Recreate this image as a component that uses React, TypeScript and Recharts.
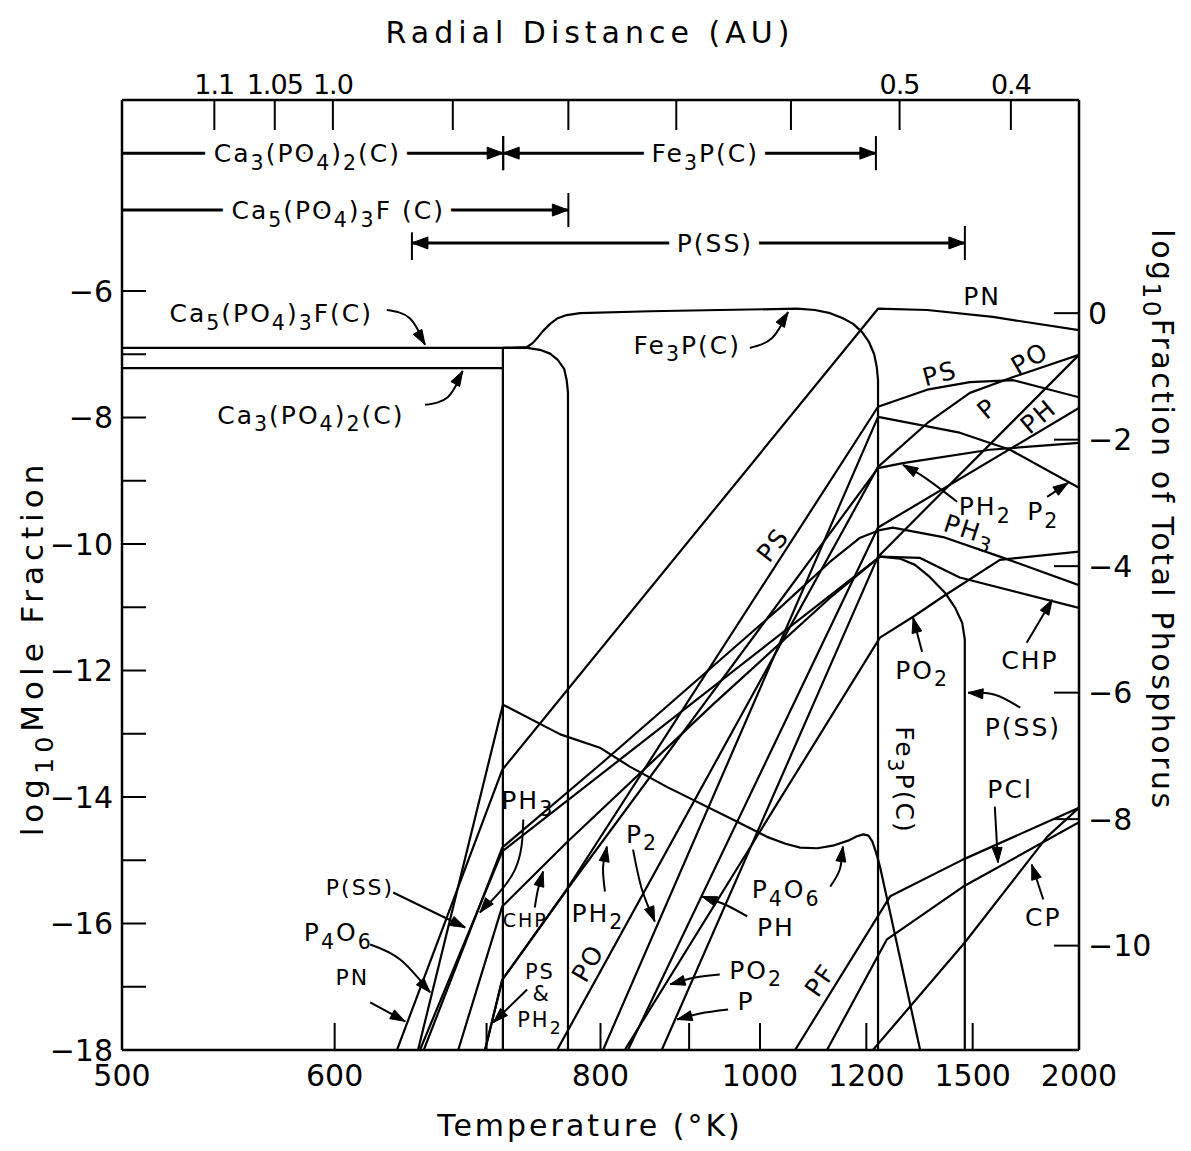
import React from 'react';
import { ComposedChart, Line, XAxis, YAxis } from 'recharts';

type Pt = [number, number];

// ---------- axes ----------
// x values are reciprocal temperature 1000/T (the figure's horizontal scale), y = log10 mole fraction
const temperatureTicks = [500, 600, 700, 800, 900, 1000, 1200, 1500, 2000];
const temperatureLabels = [500, 600, 800, 1000, 1200, 1500, 2000];
const radialTicks = [
  { au: '1.1', T: 539 },
  { au: '1.05', T: 568 },
  { au: '1.0', T: 599 },
  { au: '', T: 675 },
  { au: '', T: 769 },
  { au: '', T: 884 },
  { au: '', T: 1051 },
  { au: '0.5', T: 1280 },
  { au: '0.4', T: 1648 },
];
const moleFractionTicks = [-18, -17, -16, -15, -14, -13, -12, -11, -10, -9, -8, -7, -6];
const moleFractionLabels = [-18, -16, -14, -12, -10, -8, -6];
const totalPTicks = [0, -2, -4, -6, -8, -10];
const totalPOffset = 6.35;
const yMin = -18;
const yMax = -2.98;

// ---------- condensed phases ----------
const ca5po43fC: Pt[] = [[2.0, -6.9], [1.365, -6.9], [1.345, -6.93], [1.329, -6.99], [1.317, -7.09], [1.307, -7.23], [1.303, -7.41], [1.301, -7.6], [1.301, -18]];
const ca3po42C: Pt[] = [[2.0, -7.22], [1.403, -7.22]];
const ca3po42Drop: Pt[] = [[1.403, -6.9], [1.403, -18]];
const fe3pC: Pt[] = [[1.403, -6.9], [1.365, -6.885], [1.356, -6.82], [1.348, -6.73], [1.34, -6.63], [1.329, -6.52], [1.317, -6.43], [1.303, -6.38], [1.282, -6.35], [1.172, -6.32], [1.063, -6.3], [0.942, -6.28], [0.914, -6.3], [0.89, -6.35], [0.87, -6.43], [0.854, -6.52], [0.84, -6.65], [0.829, -6.81], [0.821, -7.0], [0.817, -7.2], [0.815, -7.41], [0.815, -18]];
const pSS: Pt[] = [[1.533, -18], [1.404, -14.86], [0.812, -10.2], [0.781, -10.23], [0.757, -10.33], [0.734, -10.52], [0.71, -10.77], [0.694, -11.01], [0.683, -11.25], [0.679, -11.51], [0.679, -18]];

// ---------- gas species ----------
const pn: Pt[] = [[1.569, -18], [1.404, -13.57], [0.815, -6.28], [0.738, -6.3], [0.635, -6.41], [0.5, -6.62]];
const p4o6: Pt[] = [[1.536, -18], [1.403, -12.54], [1.313, -13.01], [1.251, -13.22], [1.204, -13.52], [1.146, -13.84], [1.042, -14.36], [0.989, -14.63], [0.96, -14.74], [0.937, -14.8], [0.91, -14.81], [0.886, -14.77], [0.862, -14.69], [0.848, -14.62], [0.838, -14.59], [0.83, -14.61], [0.824, -14.7], [0.818, -14.88], [0.812, -15.1], [0.796, -15.83], [0.749, -18]];
const ph3: Pt[] = [[1.527, -18], [1.404, -14.8], [1.251, -13.49], [1.094, -12.11], [0.969, -11.01], [0.89, -10.28], [0.843, -9.9], [0.812, -9.78], [0.792, -9.74], [0.713, -9.89], [0.624, -10.2], [0.5, -10.65]];
const chp: Pt[] = [[1.473, -18], [1.404, -15.73], [1.303, -14.72], [1.074, -12.54], [0.89, -10.85], [0.812, -10.2], [0.749, -10.22], [0.687, -10.53], [0.5, -11.01]];
const ps: Pt[] = [[1.431, -18], [1.404, -16.89], [1.306, -15.51], [0.815, -7.83], [0.738, -7.56], [0.671, -7.44], [0.603, -7.41], [0.5, -7.68]];
const ph2: Pt[] = [[1.431, -18], [1.404, -16.89], [1.306, -15.51], [0.815, -8.8], [0.776, -8.72], [0.64, -8.51], [0.5, -8.4]];
const po: Pt[] = [[1.318, -18], [0.815, -8.78], [0.738, -8.09], [0.671, -7.61], [0.603, -7.36], [0.5, -7.01]];
const p2: Pt[] = [[1.246, -18], [0.815, -7.99], [0.687, -8.24], [0.608, -8.51], [0.5, -9.11]];
const ph: Pt[] = [[1.207, -18], [0.815, -9.74], [0.5, -7.85]];
const po2: Pt[] = [[1.212, -18], [0.812, -11.48], [0.76, -11.15], [0.713, -10.83], [0.624, -10.25], [0.5, -10.12]];
const p: Pt[] = [[1.154, -18], [0.815, -10.2], [0.5, -7.01]];
const pf: Pt[] = [[0.945, -18], [0.796, -15.57], [0.682, -14.99], [0.5, -14.17]];
const pcl: Pt[] = [[0.895, -18], [0.801, -16.25], [0.682, -15.42], [0.5, -14.4]];
const cp: Pt[] = [[0.823, -18], [0.679, -16.3], [0.55, -14.63], [0.5, -14.17]];

const curves: { id: string; pts: Pt[] }[] = [
  { id: 'ca5', pts: ca5po43fC },
  { id: 'ca3', pts: ca3po42C },
  { id: 'ca3d', pts: ca3po42Drop },
  { id: 'fe3p', pts: fe3pC },
  { id: 'pss', pts: pSS },
  { id: 'pn', pts: pn },
  { id: 'p4o6', pts: p4o6 },
  { id: 'ph3', pts: ph3 },
  { id: 'chp', pts: chp },
  { id: 'ps', pts: ps },
  { id: 'ph2', pts: ph2 },
  { id: 'po', pts: po },
  { id: 'p2', pts: p2 },
  { id: 'ph', pts: ph },
  { id: 'po2', pts: po2 },
  { id: 'p', pts: p },
  { id: 'pf', pts: pf },
  { id: 'pcl', pts: pcl },
  { id: 'cp', pts: cp },
];

// ---------- stability ranges of condensates (K) along the top ----------
const phaseRanges = [
  { label: 'Ca_3(PO_4)_2(C)', from: 500, to: 713, headFrom: false, labelT: 585, row: 0 },
  { label: 'Fe_3P(C)', from: 713, to: 1222, headFrom: true, labelT: 921, row: 0 },
  { label: 'Ca_5(PO_4)_3F (C)', from: 500, to: 769, headFrom: false, labelT: 602, row: 1 },
  { label: 'P(SS)', from: 647, to: 1473, headFrom: true, labelT: 934, row: 2 },
];
const rowLevels = [-3.82, -4.72, -5.24];

// ---------- labels & pointer arrows ----------
const speciesLabels: { text: string; x: number; y: number; rot?: number; fs?: number }[] = [
  { text: 'Ca_5(PO_4)_3F(C)', x: 1.766, y: -6.35 },
  { text: 'Ca_3(PO_4)_2(C)', x: 1.704, y: -7.96 },
  { text: 'Fe_3P(C)', x: 1.114, y: -6.85 },
  { text: 'PN', x: 0.652, y: -6.08 },
  { text: 'PS', x: 0.718, y: -7.3, rot: -15 },
  { text: 'PO', x: 0.577, y: -7.06, rot: -30 },
  { text: 'P', x: 0.644, y: -7.85, rot: -40 },
  { text: 'PH', x: 0.564, y: -7.98, rot: -40 },
  { text: 'PH_2', x: 0.647, y: -9.4 },
  { text: 'P_2', x: 0.556, y: -9.48 },
  { text: 'PH_3', x: 0.671, y: -9.78, rot: 18 },
  { text: 'PS', x: 0.98, y: -10.01, rot: -52 },
  { text: 'PO_2', x: 0.746, y: -11.99 },
  { text: 'CHP', x: 0.577, y: -11.83 },
  { text: 'P(SS)', x: 0.588, y: -12.9 },
  { text: 'Fe_3P(C)', x: 0.773, y: -13.73, rot: 90 },
  { text: 'PCl', x: 0.608, y: -13.88 },
  { text: 'CP', x: 0.556, y: -15.89 },
  { text: 'P_4O_6', x: 0.959, y: -15.46 },
  { text: 'PH', x: 0.975, y: -16.06 },
  { text: 'PO_2', x: 1.006, y: -16.73 },
  { text: 'P', x: 1.022, y: -17.22 },
  { text: 'PF', x: 0.906, y: -16.89, rot: -55 },
  { text: 'P_2', x: 1.185, y: -14.58 },
  { text: 'PH_2', x: 1.254, y: -15.83 },
  { text: 'PO', x: 1.27, y: -16.62, rot: -60 },
  { text: 'PS', x: 1.345, y: -16.77, fs: 21 },
  { text: '&', x: 1.342, y: -17.12, fs: 21 },
  { text: 'PH_2', x: 1.345, y: -17.52, fs: 21 },
  { text: 'CHP', x: 1.368, y: -15.94, fs: 19 },
  { text: 'PH_3', x: 1.364, y: -14.04 },
  { text: 'P(SS)', x: 1.627, y: -15.43, fs: 22 },
  { text: 'P_4O_6', x: 1.661, y: -16.14 },
  { text: 'PN', x: 1.639, y: -16.84, fs: 22 },
];

const pointers: Pt[][] = [
  [[1.585, -6.3], [1.549, -6.43], [1.525, -6.85]],
  [[1.525, -7.8], [1.489, -7.675], [1.466, -7.264]],
  [[1.016, -6.9], [0.981, -6.742], [0.956, -6.332]],
  [[0.691, -9.333], [0.741, -8.954], [0.776, -8.749]],
  [[0.55, -9.254], [0.517, -9.033]],
  [[0.746, -11.703], [0.76, -11.166]],
  [[0.582, -11.561], [0.542, -10.882]],
  [[0.592, -12.588], [0.632, -12.382], [0.674, -12.351]],
  [[0.632, -14.152], [0.627, -15.036]],
  [[0.556, -15.621], [0.574, -15.068]],
  [[0.89, -15.416], [0.875, -15.147], [0.87, -14.784]],
  [[1.02, -15.889], [1.055, -15.7], [1.091, -15.573]],
  [[1.063, -16.806], [1.102, -16.853], [1.141, -16.963]],
  [[1.05, -17.359], [1.094, -17.422], [1.13, -17.517]],
  [[1.199, -14.831], [1.185, -15.463], [1.165, -15.968]],
  [[1.243, -15.494], [1.246, -15.115], [1.24, -14.784]],
  [[1.353, -15.747], [1.348, -15.463], [1.34, -15.178]],
  [[1.365, -17.043], [1.418, -17.564]],
  [[1.371, -14.357], [1.384, -15.147], [1.439, -15.826]],
  [[1.575, -15.51], [1.462, -16.063]],
  [[1.611, -16.332], [1.564, -16.569], [1.517, -17.09]],
  [[1.611, -17.248], [1.556, -17.548]],
];

// ---------- helpers ----------
const FONT = "'DejaVu Sans', 'Noto Sans', sans-serif";
const BLACK = '#000';

function rich(s: string, fs: number) {
  const parts: { t: string; sub: boolean }[] = [];
  let buf = '';
  let i = 0;
  while (i < s.length) {
    if (s[i] === '_') {
      if (buf) { parts.push({ t: buf, sub: false }); buf = ''; }
      let t = '';
      if (s[i + 1] === '{') { const j = s.indexOf('}', i); t = s.slice(i + 2, j); i = j + 1; }
      else { t = s[i + 1]; i += 2; }
      parts.push({ t, sub: true });
    } else { buf += s[i]; i += 1; }
  }
  if (buf) parts.push({ t: buf, sub: false });
  const shift = fs * 0.38;
  let cur = 0;
  return parts.map((pp, k) => {
    const target = pp.sub ? shift : 0;
    const dy = target - cur;
    cur = target;
    return (
      <tspan key={k} dy={dy} fontSize={pp.sub ? fs * 0.82 : fs}>{pp.t}</tspan>
    );
  });
}

const toRows = (pts: Pt[]) => pts.map(([x, y]) => ({ x, y }));

function arrowHead(cx: number, cy: number, dx: number, dy: number, key: string, len = 15, half = 5) {
  const L = Math.hypot(dx, dy) || 1;
  const ux = dx / L;
  const uy = dy / L;
  const bx = cx - ux * len;
  const by = cy - uy * len;
  const px = -uy * half;
  const py = ux * half;
  return (
    <path key={key} d={`M${cx},${cy} L${bx + px},${by + py} L${bx - px},${by - py} Z`} fill={BLACK} stroke={BLACK} strokeWidth={1} />
  );
}

function makeTipDot() {
  let prev: { x: number; y: number } | null = null;
  return (props: any) => {
    const { cx, cy, index, points } = props;
    const n = points ? points.length : 0;
    const before = points && index > 0 ? { x: points[index - 1].x, y: points[index - 1].y } : prev;
    prev = { x: cx, y: cy };
    if (index === 0 || (n && index !== n - 1) || !before) return <g key={`t${index}`} />;
    return arrowHead(cx, cy, cx - before.x, cy - before.y, `t${index}`);
  };
}

const rangeDot = (props: any) => {
  const { cx, cy, payload, index } = props;
  if (payload.head === 'l') return arrowHead(cx, cy, -1, 0, `r${index}`, 16, 6);
  if (payload.head === 'r') return arrowHead(cx, cy, 1, 0, `r${index}`, 16, 6);
  return <g key={`r${index}`} />;
};

const labelDot = (props: any) => {
  const { cx, cy, payload, index } = props;
  const fs = payload.fs ?? 25;
  const rot = payload.rot ?? 0;
  const common = {
    x: cx,
    y: cy,
    transform: rot ? `rotate(${rot} ${cx} ${cy})` : undefined,
    textAnchor: 'middle' as const,
    dominantBaseline: 'central' as const,
    fontFamily: FONT,
    fontSize: fs,
    letterSpacing: 2,
  };
  return (
    <g key={`lb${index}`}>
      {payload.halo && (
        <text {...common} fill="#fff" stroke="#fff" strokeWidth={20} strokeLinejoin="round">{rich(payload.text, fs)}</text>
      )}
      <text {...common} fill={BLACK}>{rich(payload.text, fs)}</text>
    </g>
  );
};

const BottomTick = (props: any) => {
  const { x, y, payload } = props;
  const T = Math.round(1000 / payload.value);
  return (
    <g>
      {T !== 500 && T !== 2000 && <line x1={x} x2={x} y1={y} y2={y - 27} stroke={BLACK} strokeWidth={2} />}
      {temperatureLabels.includes(T) && (
        <text x={x} y={y + 36} textAnchor="middle" fontFamily={FONT} fontSize={30} fill={BLACK}>{T}</text>
      )}
    </g>
  );
};

const TopTick = (props: any) => {
  const { x, y, payload } = props;
  const r = radialTicks.find((t) => Math.abs(1000 / t.T - payload.value) < 1e-6);
  return (
    <g>
      <line x1={x} x2={x} y1={y} y2={y + 30} stroke={BLACK} strokeWidth={2} />
      {r && r.au && (
        <text x={x} y={y - 6} textAnchor="middle" fontFamily={FONT} fontSize={27} letterSpacing={-1} fill={BLACK}>{r.au}</text>
      )}
    </g>
  );
};

const minus = (v: number) => (v < 0 ? `\u2212${Math.abs(v)}` : `${v}`);

const LeftTick = (props: any) => {
  const { x, y, payload } = props;
  const v = payload.value;
  return (
    <g>
      {v !== -18 && <line x1={x} x2={x + 24} y1={y} y2={y} stroke={BLACK} strokeWidth={2} />}
      {moleFractionLabels.includes(v) && (
        <text x={x - 9} y={y} textAnchor="end" dominantBaseline="central" fontFamily={FONT} fontSize={30} fill={BLACK}>{minus(v)}</text>
      )}
    </g>
  );
};

const RightTick = (props: any) => {
  const { x, y, payload } = props;
  return (
    <g>
      <line x1={x} x2={x - 25} y1={y} y2={y} stroke={BLACK} strokeWidth={2} />
      <text x={x + 9} y={y} textAnchor="start" dominantBaseline="central" fontFamily={FONT} fontSize={30} fill={BLACK}>{minus(payload.value)}</text>
    </g>
  );
};

const axisStyle = { stroke: BLACK, strokeWidth: 2.5 };

export default function App() {
  const W = 1175;
  const H = 1135;
  const bottomTicks = temperatureTicks.map((T) => 1000 / T);
  const topTicks = radialTicks.map((r) => 1000 / r.T);

  const rangeLines = phaseRanges.map((r) => ({
    data: [
      { x: 1000 / r.from, y: rowLevels[r.row], head: r.headFrom ? 'l' : undefined },
      { x: 1000 / r.to, y: rowLevels[r.row], head: 'r' },
    ],
  }));
  const barTemps: { T: number; row: number }[] = [];
  phaseRanges.forEach((r) => {
    if (r.headFrom) barTemps.push({ T: r.from, row: r.row });
    barTemps.push({ T: r.to, row: r.row });
  });
  const rangeLabels = phaseRanges.map((r) => ({ x: 1000 / r.labelT, y: rowLevels[r.row], text: r.label, halo: true, fs: 25 }));
  const labelRows = [...speciesLabels.map((l) => ({ ...l })), ...rangeLabels];

  return (
    <div style={{ position: 'relative', width: W, height: H, background: '#fff' }}>
      <ComposedChart width={W} height={H} margin={{ top: 32, right: 24, bottom: 33, left: 14 }}>
        <XAxis xAxisId="b" type="number" dataKey="x" scale="linear" domain={[0.5, 2]} reversed allowDataOverflow orientation="bottom" height={60} ticks={bottomTicks} interval={0} tick={(pr: any) => <BottomTick {...pr} />} tickLine={false} tickSize={0} tickMargin={0} axisLine={axisStyle} />
        <XAxis xAxisId="t" type="number" dataKey="x" scale="linear" domain={[0.5, 2]} reversed allowDataOverflow orientation="top" height={60} ticks={topTicks} interval={0} tick={(pr: any) => <TopTick {...pr} />} tickLine={false} tickSize={0} tickMargin={0} axisLine={axisStyle} />
        <YAxis yAxisId="l" type="number" dataKey="y" domain={[yMin, yMax]} allowDataOverflow width={100} ticks={moleFractionTicks} interval={0} tick={(pr: any) => <LeftTick {...pr} />} tickLine={false} tickSize={0} tickMargin={0} axisLine={axisStyle} />
        <YAxis yAxisId="r" type="number" dataKey="y" orientation="right" domain={[yMin + totalPOffset, yMax + totalPOffset]} allowDataOverflow width={80} ticks={totalPTicks} interval={0} tick={(pr: any) => <RightTick {...pr} />} tickLine={false} tickSize={0} tickMargin={0} axisLine={axisStyle} />

        {curves.map((c) => (
          <Line key={c.id} xAxisId="b" yAxisId="l" data={toRows(c.pts)} dataKey="y" type="linear" stroke={BLACK} strokeWidth={2.2} strokeLinejoin="round" dot={false} activeDot={false} isAnimationActive={false} />
        ))}

        {rangeLines.map((r, i) => (
          <Line key={`rg${i}`} xAxisId="b" yAxisId="l" data={r.data} dataKey="y" type="linear" stroke={BLACK} strokeWidth={3} dot={rangeDot} activeDot={false} isAnimationActive={false} />
        ))}
        {barTemps.map((b, i) => (
          <Line key={`bar${i}`} xAxisId="b" yAxisId="l" data={[{ x: 1000 / b.T, y: rowLevels[b.row] + 0.27 }, { x: 1000 / b.T, y: rowLevels[b.row] - 0.27 }]} dataKey="y" type="linear" stroke={BLACK} strokeWidth={2} dot={false} activeDot={false} isAnimationActive={false} />
        ))}

        {pointers.map((pts, i) => (
          <Line key={`ptr${i}`} xAxisId="b" yAxisId="l" data={toRows(pts)} dataKey="y" type="natural" stroke={BLACK} strokeWidth={2} dot={makeTipDot()} activeDot={false} isAnimationActive={false} />
        ))}

        <Line xAxisId="b" yAxisId="l" data={labelRows} dataKey="y" type="linear" stroke="none" strokeWidth={0} dot={labelDot} activeDot={false} isAnimationActive={false} />
      </ComposedChart>

      <svg width={W} height={H} style={{ position: 'absolute', left: 0, top: 0, pointerEvents: 'none', overflow: 'visible' }}>
        <text x={582} y={24} textAnchor="middle" dominantBaseline="central" fontFamily={FONT} fontSize={30} letterSpacing={5} fill={BLACK}>Radial Distance (AU)</text>
        <text x={582} y={1117} textAnchor="middle" dominantBaseline="central" fontFamily={FONT} fontSize={30} letterSpacing={3} fill={BLACK}>Temperature (°K)</text>
        <text transform="translate(24,640) rotate(-90)" textAnchor="middle" dominantBaseline="central" fontFamily={FONT} fontSize={31} letterSpacing={5} fill={BLACK}>{rich('log_{10}Mole Fraction', 31)}</text>
        <text transform="translate(1155,512) rotate(90)" textAnchor="middle" dominantBaseline="central" fontFamily={FONT} fontSize={30} letterSpacing={2.5} fill={BLACK}>{rich('log_{10}Fraction of Total Phosphorus', 30)}</text>
      </svg>
    </div>
  );
}
